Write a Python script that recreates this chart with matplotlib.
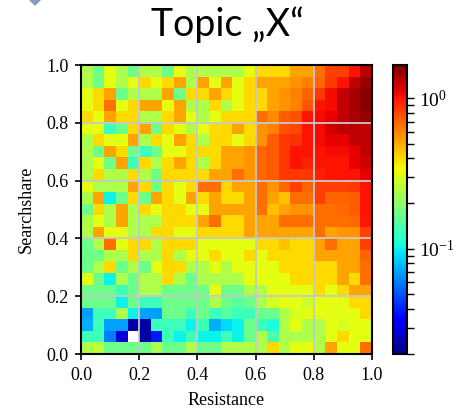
import numpy as np
import matplotlib
matplotlib.use("Agg")
import matplotlib.pyplot as plt
from matplotlib.colors import LogNorm
from matplotlib.patches import Polygon

plt.rcParams['font.family'] = ['Liberation Serif', 'DejaVu Serif']
plt.rcParams['mathtext.fontset'] = 'stix'

# Werte der Heatmap, Zeilen von oben (Searchshare 1.0) nach unten (0.0),
# Spalten von Resistance 0.0 bis 1.0 (25 x 25 Zellen)
row_values = [
    [0.24, 0.17, 0.32, 0.24, 0.17, 0.24, 0.24, 0.17, 0.32, 0.24, 0.24, 0.24, 0.24, 0.24, 0.32, 0.40, 0.40, 0.40, 0.52, 0.52, 0.66, 0.82, 0.82, 1.02, 1.30],
    [0.24, 0.17, 0.32, 0.24, 0.32, 0.40, 0.32, 0.40, 0.52, 0.24, 0.52, 0.32, 0.52, 0.32, 0.40, 0.52, 0.52, 0.52, 0.55, 0.60, 0.70, 0.85, 1.02, 1.30, 1.50],
    [0.32, 0.40, 0.52, 0.17, 0.24, 0.24, 0.24, 0.52, 0.17, 0.40, 0.40, 0.52, 0.40, 0.32, 0.40, 0.40, 0.52, 0.55, 0.60, 0.70, 0.85, 1.05, 1.30, 1.40, 1.60],
    [0.32, 0.40, 0.66, 0.32, 0.40, 0.52, 0.52, 0.32, 0.52, 0.24, 0.24, 0.40, 0.24, 0.32, 0.40, 0.40, 0.52, 0.55, 0.60, 0.75, 1.02, 1.05, 1.30, 1.40, 1.60],
    [0.40, 0.32, 0.52, 0.40, 0.40, 0.24, 0.24, 0.40, 0.52, 0.32, 0.24, 0.32, 0.40, 0.40, 0.40, 0.66, 0.58, 0.72, 0.76, 1.02, 1.05, 1.10, 1.30, 1.40, 1.50],
    [0.32, 0.32, 0.13, 0.17, 0.40, 0.52, 0.17, 0.40, 0.32, 0.24, 0.32, 0.40, 0.40, 0.52, 0.40, 0.55, 0.60, 0.76, 0.80, 1.02, 1.05, 1.20, 1.30, 1.30, 1.30],
    [0.24, 0.40, 0.32, 0.32, 0.52, 0.24, 0.40, 0.32, 0.52, 0.40, 0.24, 0.40, 0.40, 0.32, 0.40, 0.55, 0.72, 0.85, 0.88, 1.02, 1.05, 1.10, 1.10, 1.30, 1.30],
    [0.24, 0.17, 0.52, 0.40, 0.17, 0.13, 0.17, 0.32, 0.32, 0.40, 0.40, 0.40, 0.52, 0.52, 0.55, 0.70, 0.72, 0.85, 1.02, 1.02, 1.02, 1.05, 1.05, 1.10, 1.30],
    [0.24, 0.32, 0.17, 0.52, 0.13, 0.40, 0.24, 0.40, 0.52, 0.40, 0.24, 0.40, 0.52, 0.52, 0.55, 0.70, 0.72, 0.85, 1.02, 0.95, 1.02, 1.02, 1.02, 1.10, 1.20],
    [0.24, 0.40, 0.24, 0.24, 0.40, 0.24, 0.17, 0.40, 0.40, 0.40, 0.40, 0.52, 0.52, 0.66, 0.55, 0.70, 0.72, 0.85, 0.85, 0.85, 0.95, 1.02, 1.02, 1.02, 1.10],
    [0.32, 0.24, 0.24, 0.24, 0.52, 0.40, 0.17, 0.40, 0.32, 0.40, 0.66, 0.66, 0.40, 0.52, 0.52, 0.66, 0.55, 0.68, 0.82, 0.70, 0.82, 0.82, 0.82, 0.85, 1.02],
    [0.24, 0.52, 0.10, 0.17, 0.40, 0.17, 0.52, 0.40, 0.32, 0.52, 0.40, 0.52, 0.40, 0.40, 0.52, 0.66, 0.52, 0.45, 0.66, 0.66, 0.82, 0.70, 0.70, 0.72, 1.02],
    [0.17, 0.40, 0.24, 0.52, 0.24, 0.40, 0.32, 0.40, 0.40, 0.32, 0.32, 0.52, 0.52, 0.52, 0.52, 0.66, 0.45, 0.52, 0.55, 0.55, 0.66, 0.66, 0.68, 0.72, 1.02],
    [0.24, 0.32, 0.24, 0.52, 0.24, 0.24, 0.24, 0.40, 0.40, 0.40, 0.52, 0.66, 0.40, 0.40, 0.52, 0.52, 0.52, 0.66, 0.66, 0.66, 0.66, 0.66, 0.66, 0.68, 1.00],
    [0.24, 0.52, 0.32, 0.32, 0.24, 0.24, 0.40, 0.40, 0.32, 0.32, 0.40, 0.40, 0.40, 0.40, 0.52, 0.52, 0.52, 0.52, 0.52, 0.52, 0.66, 0.52, 0.55, 0.55, 0.82],
    [0.17, 0.24, 0.66, 0.32, 0.40, 0.40, 0.24, 0.40, 0.40, 0.40, 0.32, 0.32, 0.32, 0.32, 0.32, 0.40, 0.40, 0.45, 0.40, 0.40, 0.52, 0.66, 0.52, 0.52, 0.82],
    [0.17, 0.17, 0.24, 0.24, 0.40, 0.24, 0.24, 0.40, 0.24, 0.32, 0.32, 0.40, 0.32, 0.32, 0.40, 0.32, 0.40, 0.40, 0.40, 0.40, 0.52, 0.52, 0.52, 0.52, 0.70],
    [0.17, 0.24, 0.40, 0.17, 0.24, 0.17, 0.32, 0.40, 0.40, 0.24, 0.24, 0.32, 0.24, 0.32, 0.32, 0.32, 0.32, 0.40, 0.40, 0.40, 0.40, 0.40, 0.52, 0.52, 0.66],
    [0.32, 0.17, 0.10, 0.24, 0.17, 0.24, 0.24, 0.40, 0.24, 0.17, 0.24, 0.24, 0.24, 0.24, 0.32, 0.32, 0.32, 0.32, 0.40, 0.40, 0.40, 0.40, 0.52, 0.40, 0.66],
    [0.17, 0.17, 0.17, 0.13, 0.17, 0.24, 0.24, 0.17, 0.17, 0.17, 0.17, 0.32, 0.17, 0.17, 0.24, 0.24, 0.32, 0.32, 0.32, 0.32, 0.40, 0.32, 0.40, 0.52, 0.52],
    [0.17, 0.17, 0.17, 0.10, 0.17, 0.13, 0.13, 0.17, 0.17, 0.17, 0.17, 0.24, 0.17, 0.15, 0.17, 0.24, 0.30, 0.32, 0.32, 0.28, 0.32, 0.32, 0.32, 0.40, 0.40],
    [0.07, 0.13, 0.13, 0.24, 0.10, 0.07, 0.07, 0.17, 0.17, 0.13, 0.17, 0.13, 0.15, 0.13, 0.13, 0.17, 0.17, 0.24, 0.30, 0.32, 0.32, 0.32, 0.32, 0.32, 0.40],
    [0.075, 0.13, 0.07, 0.07, 0.023, 0.023, 0.13, 0.13, 0.13, 0.10, 0.13, 0.075, 0.09, 0.10, 0.17, 0.13, 0.11, 0.24, 0.32, 0.24, 0.24, 0.32, 0.30, 0.32, 0.32],
    [0.13, 0.13, 0.06, 0.028, np.nan, 0.023, 0.039, 0.13, 0.10, 0.13, 0.10, 0.10, 0.13, 0.10, 0.17, 0.24, 0.14, 0.24, 0.24, 0.24, 0.24, 0.32, 0.40, 0.32, 0.32],
    [0.24, 0.26, 0.17, 0.17, 0.17, 0.17, 0.24, 0.17, 0.17, 0.24, 0.17, 0.17, 0.24, 0.24, 0.24, 0.24, 0.40, 0.24, 0.32, 0.32, 0.24, 0.52, 0.32, 0.32, 0.66],
]

ticks = [0.0, 0.2, 0.4, 0.6, 0.8, 1.0]
tick_labels = ['0.0', '0.2', '0.4', '0.6', '0.8', '1.0']
title = 'Topic \u201eX\u201c'

data = np.array(row_values)

fig = plt.figure(figsize=(4.58, 4.17), dpi=100)
ax = fig.add_axes([0.177, 0.151, 0.635, 0.693])
cax = fig.add_axes([0.858, 0.151, 0.031, 0.693])

# Heatmap mit logarithmischer Farbskala
im = ax.imshow(data, cmap='jet', norm=LogNorm(vmin=0.02, vmax=1.66),
               extent=[0, 1, 0, 1], origin='upper', aspect='auto',
               interpolation='nearest')

ax.set_xticks(ticks)
ax.set_xticklabels(tick_labels)
ax.set_yticks(ticks)
ax.set_yticklabels(tick_labels)
ax.set_xlim(0, 1)
ax.set_ylim(0, 1)
ax.tick_params(direction='out', length=4, width=1.2, labelsize=13, pad=5)
ax.grid(True, color='#c8c8c8', linewidth=1.3)
for spine in ax.spines.values():
    spine.set_linewidth(1.5)

ax.set_xlabel('Resistance', fontsize=13, labelpad=6)
ax.set_ylabel('Searchshare', fontsize=13, labelpad=8)

# Farbskala rechts
cb = fig.colorbar(im, cax=cax)
cb.outline.set_linewidth(1.5)
cax.tick_params(which='both', direction='out', length=5, width=1.0, labelsize=14)

fig.text(0.497, 0.94, title, family='Lato', fontsize=27, ha='center', va='center')

# angeschnittenes Aufzaehlungszeichen oben links
diamond = Polygon([(0.061, 1.005), (0.0764, 0.988), (0.092, 1.005), (0.0764, 1.022)],
                  closed=True, transform=fig.transFigure, color='#8a9bbb')
fig.patches.append(diamond)

fig.savefig('out.png', dpi=100)
